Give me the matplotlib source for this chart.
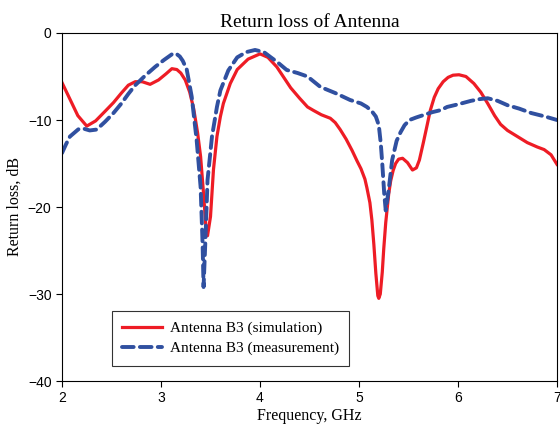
import matplotlib
matplotlib.use("Agg")
import matplotlib.pyplot as plt

# simulation curve (red, solid)
sim_freq = [2.0, 2.08, 2.16, 2.25, 2.34, 2.435, 2.52, 2.6, 2.67, 2.74, 2.81, 2.89, 2.975,
            3.05, 3.11, 3.16, 3.2, 3.245, 3.29, 3.33, 3.37, 3.4, 3.43, 3.455, 3.47,
            3.5, 3.53, 3.565, 3.6, 3.63, 3.7, 3.77, 3.88, 4.0, 4.08, 4.17, 4.24,
            4.31, 4.4, 4.48, 4.54, 4.62, 4.71, 4.76, 4.81, 4.87, 4.93, 4.98, 5.02,
            5.06, 5.08, 5.11, 5.13, 5.15, 5.17, 5.19, 5.2, 5.215, 5.235, 5.25, 5.27,
            5.3, 5.32, 5.345, 5.37, 5.4, 5.44, 5.49, 5.54, 5.58, 5.61, 5.65, 5.69,
            5.72, 5.76, 5.8, 5.85, 5.9, 5.95, 6.01, 6.08, 6.16, 6.23, 6.3, 6.37,
            6.43, 6.5, 6.6, 6.7, 6.8, 6.87, 6.94, 7.0]
sim_db = [-5.7, -7.6, -9.5, -10.7, -10.1, -9.0, -8.0, -6.9, -6.0, -5.6, -5.6, -5.9, -5.4,
          -4.7, -4.1, -4.2, -4.6, -5.4, -6.8, -8.7, -11.5, -14.2, -18.5, -22.5, -23.3,
          -21.1, -15.7, -11.9, -9.6, -8.1, -5.8, -4.2, -3.0, -2.4, -2.8, -3.9, -5.1,
          -6.3, -7.5, -8.5, -8.9, -9.4, -9.8, -10.3, -11.1, -12.2, -13.5, -14.7, -15.6,
          -16.8, -17.8, -19.5, -21.5, -24.3, -27.6, -30.2, -30.5, -30.0, -27.5, -24.8, -21.8,
          -18.5, -17.0, -15.8, -15.0, -14.5, -14.4, -14.9, -15.75, -15.5, -14.6, -12.6, -10.5,
          -8.9, -7.4, -6.4, -5.6, -5.1, -4.85, -4.8, -5.0, -5.8, -6.8, -8.1, -9.5,
          -10.5, -11.2, -11.9, -12.6, -13.1, -13.4, -14.0, -15.1]

# measurement curve (blue, dashed)
meas_freq = [2.0, 2.04, 2.08, 2.165, 2.22, 2.28, 2.35, 2.435, 2.52, 2.6, 2.67, 2.74, 2.84,
             2.94, 3.03, 3.11, 3.15, 3.19, 3.22, 3.26, 3.31, 3.36, 3.4, 3.42, 3.43,
             3.45, 3.47, 3.515, 3.565, 3.6, 3.68, 3.77, 3.86, 3.95, 4.04, 4.11, 4.17,
             4.27, 4.38, 4.48, 4.61, 4.76, 4.91, 5.02, 5.08, 5.13, 5.17, 5.2, 5.22,
             5.235, 5.255, 5.27, 5.3, 5.335, 5.38, 5.42, 5.46, 5.51, 5.58, 5.66, 5.74,
             5.83, 5.89, 6.0, 6.13, 6.22, 6.3, 6.4, 6.5, 6.62, 6.74, 6.88, 7.0]
meas_db = [-13.8, -12.8, -11.9, -11.07, -11.0, -11.2, -11.1, -10.2, -9.2, -8.1, -7.0, -6.0, -4.9,
           -3.9, -3.1, -2.45, -2.35, -2.7, -3.2, -4.2, -7.3, -12.3, -17.7, -24.2, -29.2,
           -23.4, -16.9, -11.9, -8.5, -6.6, -4.3, -2.8, -2.2, -1.95, -2.2, -2.8, -3.3,
           -4.25, -4.6, -5.0, -6.2, -6.9, -7.7, -8.1, -8.5, -9.0, -9.6, -10.6, -12.7,
           -15.0, -18.5, -20.4, -18.0, -14.6, -12.4, -11.4, -10.6, -10.0, -9.7, -9.4, -9.1,
           -8.85, -8.5, -8.2, -7.8, -7.6, -7.5, -7.8, -8.3, -8.7, -9.2, -9.6, -10.0]

x_ticks = [2, 3, 4, 5, 6, 7]
y_ticks = [0, -10, -20, -30, -40]

RED = "#ee1c25"
BLUE = "#3050a0"
SERIF = ["Liberation Serif", "DejaVu Serif"]
SANS = ["Liberation Sans", "DejaVu Sans"]

fig = plt.figure(figsize=(5.6, 4.33), dpi=100)
ax = fig.add_axes([62 / 560, 52 / 433, 495 / 560, 348 / 433])

ax.plot(sim_freq, sim_db, color=RED, lw=2.3, solid_joinstyle="round",
        label="Antenna B3 (simulation)")
ax.plot(meas_freq, meas_db, color=BLUE, lw=2.8, dashes=(3.0, 1.6),
        dash_capstyle="round", label="Antenna B3 (measurement)")

ax.set_xlim(2, 7)
ax.set_ylim(-40, 0)
ax.set_xticks(x_ticks)
ax.set_yticks(y_ticks)
ax.tick_params(direction="out", length=4, width=0.8, labelsize=10,
               top=False, right=False)
for lab in ax.get_xticklabels() + ax.get_yticklabels():
    lab.set_family(SANS)

ax.set_title("Return loss of Antenna", family=SERIF, fontsize=14, pad=4)
ax.set_xlabel("Frequency, GHz", family=SERIF, fontsize=11.5, labelpad=2)
ax.set_ylabel("Return loss, dB", family=SERIF, fontsize=11.5, labelpad=4)

leg = ax.legend(loc="lower left", bbox_to_anchor=(0.1, 0.043),
                prop={"family": SERIF, "size": 11}, frameon=True, fancybox=False,
                edgecolor="black", handlelength=2.6, borderpad=0.7,
                labelspacing=0.4, handletextpad=0.5, borderaxespad=0)
leg.get_frame().set_linewidth(0.8)

fig.savefig("out.png", dpi=100)
